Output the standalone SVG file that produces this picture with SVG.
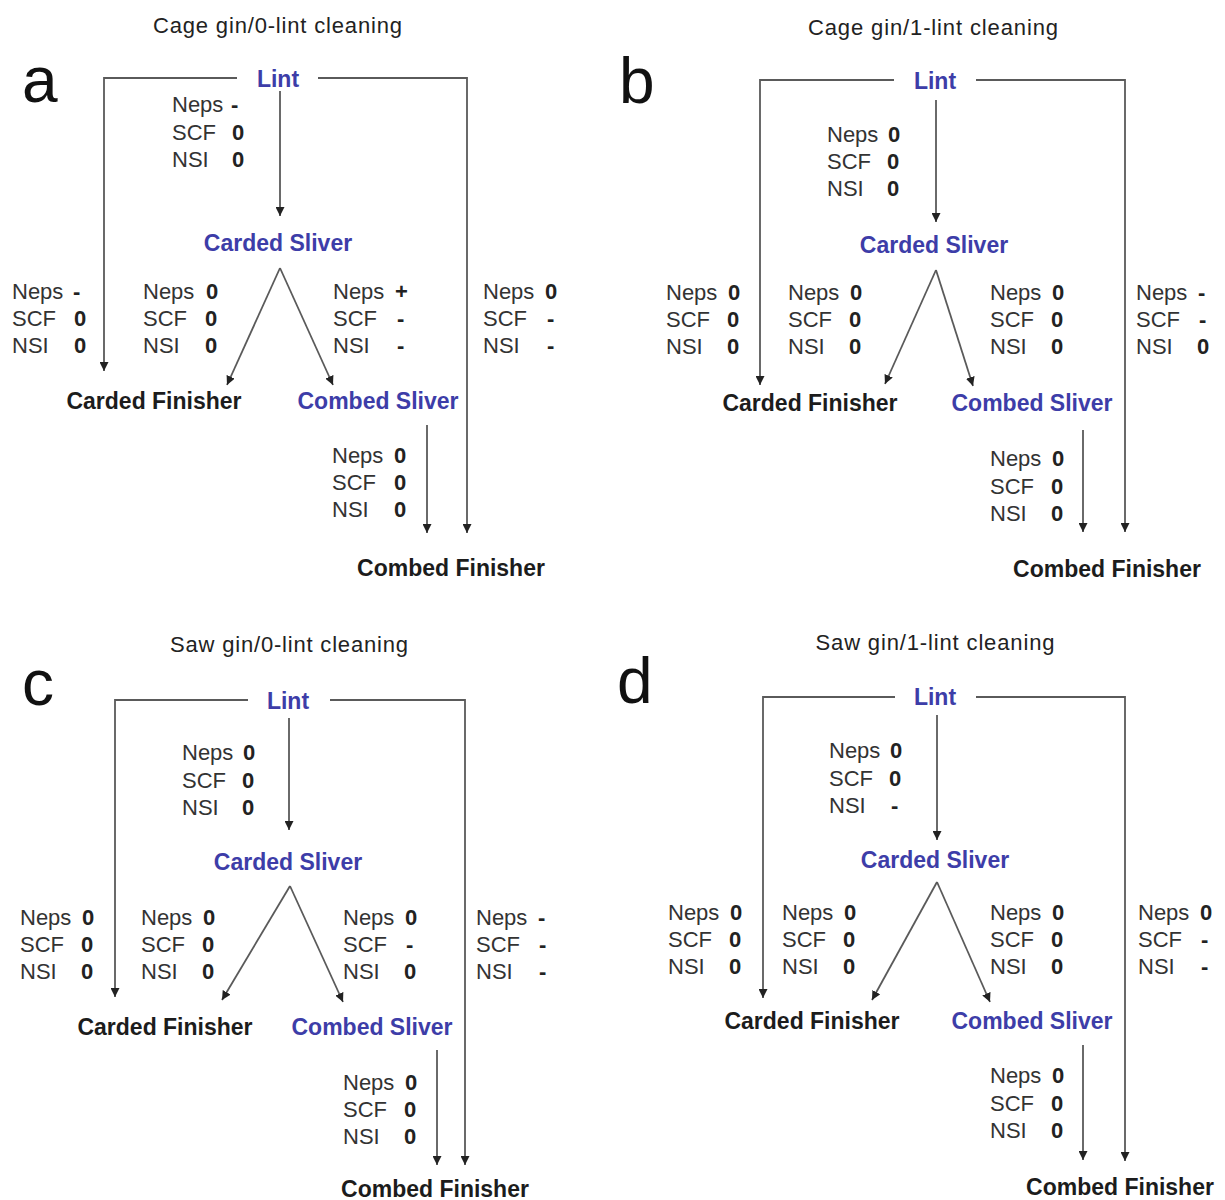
<svg xmlns="http://www.w3.org/2000/svg" width="1225" height="1200" viewBox="0 0 1225 1200">
<defs>
<style>
text{font-family:"Liberation Sans",Arial,sans-serif}
.t{font-size:22px;fill:#222;text-anchor:middle}
.L{font-size:64px;fill:#111}
.n{font-size:23px;font-weight:bold;fill:#3d3da8;text-anchor:middle}
.k{font-size:23px;font-weight:bold;fill:#1c1c1c;text-anchor:middle}
.lb{font-size:22px;fill:#333}
.v{font-weight:bold;fill:#222}
.c path{stroke:#5a5a5a;stroke-width:1.8;fill:none;marker-end:url(#ah)}
</style>
<marker id="ah" viewBox="0 0 10 10" refX="10" refY="5" markerWidth="9" markerHeight="9" markerUnits="userSpaceOnUse" orient="auto"><path d="M0,0 L10,5 L0,10 z" fill="#222"/></marker>
</defs>
<rect width="1225" height="1200" fill="#fff"/>

<!-- Panel a -->
<g id="panel-a">
<g id="a-title"><text class="t" x="277.5" y="33" textLength="249" lengthAdjust="spacing">Cage gin/0-lint cleaning</text></g>
<g id="a-letter"><text class="L" x="22" y="102">a</text></g>
<g class="c" id="a-connectors">
<path d="M237,78 H104 V371"/>
<path d="M318,78 H467 V533"/>
<path d="M280,91 V216"/>
<path d="M280,268 L227,385"/>
<path d="M280,268 L333,385"/>
<path d="M427,425 V533"/>
</g>
<g id="a-lint"><text class="n" x="278" y="87">Lint</text></g>
<g id="a-carded-sliver"><text class="n" x="278" y="251">Carded Sliver</text></g>
<g id="a-carded-finisher"><text class="k" x="154" y="409">Carded Finisher</text></g>
<g id="a-combed-sliver"><text class="n" x="378" y="409">Combed Sliver</text></g>
<g id="a-combed-finisher"><text class="k" x="451" y="576">Combed Finisher</text></g>
<g id="a-labels">
<text class="lb" x="172" y="112">Neps<tspan class="v" x="231">-</tspan></text>
<text class="lb" x="172" y="140">SCF<tspan class="v" x="232">0</tspan></text>
<text class="lb" x="172" y="167">NSI<tspan class="v" x="232">0</tspan></text>
<text class="lb" x="12" y="299">Neps<tspan class="v" x="73">-</tspan></text>
<text class="lb" x="12" y="326">SCF<tspan class="v" x="74">0</tspan></text>
<text class="lb" x="12" y="353">NSI<tspan class="v" x="74">0</tspan></text>
<text class="lb" x="143" y="299">Neps<tspan class="v" x="206">0</tspan></text>
<text class="lb" x="143" y="326">SCF<tspan class="v" x="205">0</tspan></text>
<text class="lb" x="143" y="353">NSI<tspan class="v" x="205">0</tspan></text>
<text class="lb" x="333" y="299">Neps<tspan class="v" x="395">+</tspan></text>
<text class="lb" x="333" y="326">SCF<tspan class="v" x="397">-</tspan></text>
<text class="lb" x="333" y="353">NSI<tspan class="v" x="397">-</tspan></text>
<text class="lb" x="483" y="299">Neps<tspan class="v" x="545">0</tspan></text>
<text class="lb" x="483" y="326">SCF<tspan class="v" x="547">-</tspan></text>
<text class="lb" x="483" y="353">NSI<tspan class="v" x="547">-</tspan></text>
<text class="lb" x="332" y="463">Neps<tspan class="v" x="394">0</tspan></text>
<text class="lb" x="332" y="490">SCF<tspan class="v" x="394">0</tspan></text>
<text class="lb" x="332" y="517">NSI<tspan class="v" x="394">0</tspan></text>
</g>
</g>

<!-- Panel b -->
<g id="panel-b">
<g id="b-title"><text class="t" x="933" y="35" textLength="250" lengthAdjust="spacing">Cage gin/1-lint cleaning</text></g>
<g id="b-letter"><text class="L" x="619" y="103">b</text></g>
<g class="c" id="b-connectors">
<path d="M894,80 H760 V385"/>
<path d="M976,80 H1125 V532"/>
<path d="M936,100 V222"/>
<path d="M936,270 L885,384"/>
<path d="M936,270 L973,386"/>
<path d="M1083,430 V532"/>
</g>
<g id="b-lint"><text class="n" x="935" y="89">Lint</text></g>
<g id="b-carded-sliver"><text class="n" x="934" y="253">Carded Sliver</text></g>
<g id="b-carded-finisher"><text class="k" x="810" y="411">Carded Finisher</text></g>
<g id="b-combed-sliver"><text class="n" x="1032" y="411">Combed Sliver</text></g>
<g id="b-combed-finisher"><text class="k" x="1107" y="577">Combed Finisher</text></g>
<g id="b-labels">
<text class="lb" x="827" y="142">Neps<tspan class="v" x="888">0</tspan></text>
<text class="lb" x="827" y="169">SCF<tspan class="v" x="887">0</tspan></text>
<text class="lb" x="827" y="196">NSI<tspan class="v" x="887">0</tspan></text>
<text class="lb" x="666" y="300">Neps<tspan class="v" x="728">0</tspan></text>
<text class="lb" x="666" y="327">SCF<tspan class="v" x="727">0</tspan></text>
<text class="lb" x="666" y="354">NSI<tspan class="v" x="727">0</tspan></text>
<text class="lb" x="788" y="300">Neps<tspan class="v" x="850">0</tspan></text>
<text class="lb" x="788" y="327">SCF<tspan class="v" x="849">0</tspan></text>
<text class="lb" x="788" y="354">NSI<tspan class="v" x="849">0</tspan></text>
<text class="lb" x="990" y="300">Neps<tspan class="v" x="1052">0</tspan></text>
<text class="lb" x="990" y="327">SCF<tspan class="v" x="1051">0</tspan></text>
<text class="lb" x="990" y="354">NSI<tspan class="v" x="1051">0</tspan></text>
<text class="lb" x="1136" y="300">Neps<tspan class="v" x="1198">-</tspan></text>
<text class="lb" x="1136" y="327">SCF<tspan class="v" x="1199">-</tspan></text>
<text class="lb" x="1136" y="354">NSI<tspan class="v" x="1197">0</tspan></text>
<text class="lb" x="990" y="466">Neps<tspan class="v" x="1052">0</tspan></text>
<text class="lb" x="990" y="494">SCF<tspan class="v" x="1051">0</tspan></text>
<text class="lb" x="990" y="521">NSI<tspan class="v" x="1051">0</tspan></text>
</g>
</g>

<!-- Panel c -->
<g id="panel-c">
<g id="c-title"><text class="t" x="289" y="652" textLength="238" lengthAdjust="spacing">Saw gin/0-lint cleaning</text></g>
<g id="c-letter"><text class="L" x="22" y="705">c</text></g>
<g class="c" id="c-connectors">
<path d="M248,700 H115 V997"/>
<path d="M330,700 H465 V1165"/>
<path d="M289,718 V830"/>
<path d="M290,886 L222,1000"/>
<path d="M290,886 L343,1002"/>
<path d="M437,1050 V1165"/>
</g>
<g id="c-lint"><text class="n" x="288" y="709">Lint</text></g>
<g id="c-carded-sliver"><text class="n" x="288" y="870">Carded Sliver</text></g>
<g id="c-carded-finisher"><text class="k" x="165" y="1035">Carded Finisher</text></g>
<g id="c-combed-sliver"><text class="n" x="372" y="1035">Combed Sliver</text></g>
<g id="c-combed-finisher"><text class="k" x="435" y="1197">Combed Finisher</text></g>
<g id="c-labels">
<text class="lb" x="182" y="760">Neps<tspan class="v" x="243">0</tspan></text>
<text class="lb" x="182" y="788">SCF<tspan class="v" x="242">0</tspan></text>
<text class="lb" x="182" y="815">NSI<tspan class="v" x="242">0</tspan></text>
<text class="lb" x="20" y="925">Neps<tspan class="v" x="82">0</tspan></text>
<text class="lb" x="20" y="952">SCF<tspan class="v" x="81">0</tspan></text>
<text class="lb" x="20" y="979">NSI<tspan class="v" x="81">0</tspan></text>
<text class="lb" x="141" y="925">Neps<tspan class="v" x="203">0</tspan></text>
<text class="lb" x="141" y="952">SCF<tspan class="v" x="202">0</tspan></text>
<text class="lb" x="141" y="979">NSI<tspan class="v" x="202">0</tspan></text>
<text class="lb" x="343" y="925">Neps<tspan class="v" x="405">0</tspan></text>
<text class="lb" x="343" y="952">SCF<tspan class="v" x="406">-</tspan></text>
<text class="lb" x="343" y="979">NSI<tspan class="v" x="404">0</tspan></text>
<text class="lb" x="476" y="925">Neps<tspan class="v" x="538">-</tspan></text>
<text class="lb" x="476" y="952">SCF<tspan class="v" x="539">-</tspan></text>
<text class="lb" x="476" y="979">NSI<tspan class="v" x="539">-</tspan></text>
<text class="lb" x="343" y="1090">Neps<tspan class="v" x="405">0</tspan></text>
<text class="lb" x="343" y="1117">SCF<tspan class="v" x="404">0</tspan></text>
<text class="lb" x="343" y="1144">NSI<tspan class="v" x="404">0</tspan></text>
</g>
</g>

<!-- Panel d -->
<g id="panel-d">
<g id="d-title"><text class="t" x="935" y="650" textLength="239" lengthAdjust="spacing">Saw gin/1-lint cleaning</text></g>
<g id="d-letter"><text class="L" x="617" y="703">d</text></g>
<g class="c" id="d-connectors">
<path d="M895,697 H763 V998"/>
<path d="M976,697 H1125 V1161"/>
<path d="M937,715 V840"/>
<path d="M937,882 L872,1000"/>
<path d="M937,882 L990,1002"/>
<path d="M1083,1045 V1160"/>
</g>
<g id="d-lint"><text class="n" x="935" y="705">Lint</text></g>
<g id="d-carded-sliver"><text class="n" x="935" y="868">Carded Sliver</text></g>
<g id="d-carded-finisher"><text class="k" x="812" y="1029">Carded Finisher</text></g>
<g id="d-combed-sliver"><text class="n" x="1032" y="1029">Combed Sliver</text></g>
<g id="d-combed-finisher"><text class="k" x="1120" y="1195">Combed Finisher</text></g>
<g id="d-labels">
<text class="lb" x="829" y="758">Neps<tspan class="v" x="890">0</tspan></text>
<text class="lb" x="829" y="786">SCF<tspan class="v" x="889">0</tspan></text>
<text class="lb" x="829" y="813">NSI<tspan class="v" x="891">-</tspan></text>
<text class="lb" x="668" y="920">Neps<tspan class="v" x="730">0</tspan></text>
<text class="lb" x="668" y="947">SCF<tspan class="v" x="729">0</tspan></text>
<text class="lb" x="668" y="974">NSI<tspan class="v" x="729">0</tspan></text>
<text class="lb" x="782" y="920">Neps<tspan class="v" x="844">0</tspan></text>
<text class="lb" x="782" y="947">SCF<tspan class="v" x="843">0</tspan></text>
<text class="lb" x="782" y="974">NSI<tspan class="v" x="843">0</tspan></text>
<text class="lb" x="990" y="920">Neps<tspan class="v" x="1052">0</tspan></text>
<text class="lb" x="990" y="947">SCF<tspan class="v" x="1051">0</tspan></text>
<text class="lb" x="990" y="974">NSI<tspan class="v" x="1051">0</tspan></text>
<text class="lb" x="1138" y="920">Neps<tspan class="v" x="1200">0</tspan></text>
<text class="lb" x="1138" y="947">SCF<tspan class="v" x="1201">-</tspan></text>
<text class="lb" x="1138" y="974">NSI<tspan class="v" x="1201">-</tspan></text>
<text class="lb" x="990" y="1083">Neps<tspan class="v" x="1052">0</tspan></text>
<text class="lb" x="990" y="1111">SCF<tspan class="v" x="1051">0</tspan></text>
<text class="lb" x="990" y="1138">NSI<tspan class="v" x="1051">0</tspan></text>
</g>
</g>
</svg>
